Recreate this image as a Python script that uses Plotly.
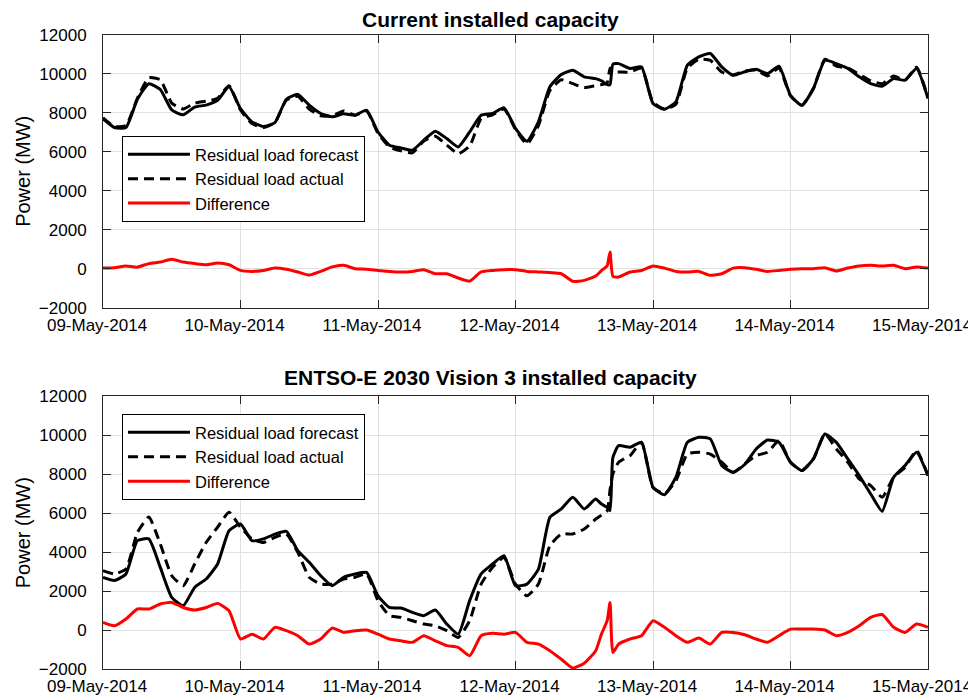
import pandas as pd
import plotly.graph_objects as go

# ---------------- data ----------------
hours = [0, 2, 4, 6, 8, 10, 12, 14, 16, 18, 20, 22, 24, 26, 28, 30, 32, 34, 36, 38, 40, 42,
         44, 46, 48, 50, 52, 54, 56, 58, 60, 62, 64, 66, 68, 70, 72, 74, 76, 78, 80, 82, 84, 86,
         87, 88, 88.5, 89,
         90, 92, 94, 96, 98, 100, 102, 104, 106, 108, 110, 112, 114, 116, 118, 120, 122, 124,
         126, 128, 130, 132, 134, 136, 138, 140, 142, 144]

top_forecast = [7700, 7250, 7250, 8700, 9500, 9200, 8150, 7900, 8300, 8400, 8650, 9340, 8220, 7540,
                7300, 7500, 8700, 8950, 8400, 7970, 7800, 7950, 7880, 8140, 7020, 6340, 6200, 6080,
                6600, 7060, 6680, 6250, 7020, 7880, 7970, 8260, 7200, 6540, 7540, 9340, 9970, 10190,
                9850, 9760,
                9650, 9450, 9450, 10500,
                10530, 10280, 10360, 8480, 8190, 8570, 10450, 10880, 11050, 10360, 9930, 10110,
                10240, 10020, 10400, 8900, 8390, 9250, 10700, 10530, 10280, 9850, 9500, 9370, 9760,
                9680, 10280, 8740]

top_actual = [7750, 7300, 7350, 8750, 9800, 9700, 8500, 8200, 8500, 8600, 8750, 9400, 8150, 7450,
              7250, 7500, 8650, 8850, 8200, 7850, 7850, 8100, 7880, 8100, 6950, 6250, 6050, 5950,
              6550, 6800, 6350, 5900, 6300, 7700, 7900, 8200, 7150, 6400, 7350, 9150, 9700, 9500,
              9300, 9400,
              9450, 9550, 10300, 10100,
              10100, 10100, 10300, 8550, 8200, 8450, 10300, 10750, 10700, 10100, 9950, 10150,
              10200, 9900, 10300, 8870, 8390, 9250, 10750, 10400, 10300, 9980, 9650, 9500, 9900,
              9680, 10350, 8770]

top_difference = [30, 50, 140, 80, 260, 340, 480, 340, 260, 200, 290, 200, -90, -140, -90, 30, -30,
                  -170, -330, -140, 90, 170, 0, -30, -90, -140, -170, -140, -50, -260, -260, -480,
                  -640, -170, -90, -50, -50, -140, -170, -200, -260, -650, -600, -380,
                  -100, 150, 860, -400,
                  -430, -170, -90, 140, 30, -140, -170, -140, -340, -260, 30, 50, -30, -140, -90,
                  -30, 0, 0, 50, -120, 30, 140, 170, 140, 170, 0, 90, 30]

bottom_forecast = [2700, 2540, 2880, 4590, 4680, 3220, 1680, 1250, 2190, 2620, 3390, 5100, 5450,
                   4590, 4680, 4930, 5070, 4080, 3480, 2790, 2280, 2710, 2880, 2960, 1760, 1160,
                   1130, 910, 740, 1030, 310, -210, 1510, 2880, 3390, 3820, 2280, 2360, 3130, 5790,
                   6220, 6820, 6220, 6730,
                   6470, 6300, 6130, 8870,
                   9470, 9390, 9640, 7330, 6950, 7850, 9640, 9900, 9820, 8450, 8100, 8500, 9300,
                   9760, 9640, 8620, 8190, 8790, 10070, 9640, 8790, 7930, 6990, 6100, 7850, 8450,
                   9130, 7930]

bottom_actual = [3050, 2880, 3130, 5000, 5800, 4420, 2790, 2280, 3390, 4500, 5280, 6050, 5280,
                 4680, 4500, 4760, 4930, 3990, 2710, 2360, 2360, 2620, 2710, 2880, 1510, 740, 650,
                 480, 310, 220, -30, -380, 480, 2360, 3220, 3730, 2360, 1760, 2360, 4330, 4930,
                 4930, 5190, 5700,
                 5900, 6130, 7200, 8020,
                 8620, 8960, 9640, 7330, 7000, 7670, 9040, 9130, 9040, 8620, 8100, 8530, 8960,
                 9130, 9730, 8620, 8190, 8790, 10070, 9300, 8620, 7760, 7420, 6820, 7850, 8360,
                 9220, 7930]

bottom_difference = [390, 220, 570, 1080, 1080, 1340, 1420, 1160, 1030, 1160, 1370, 990, -460,
                     -210, -460, 140, -30, -290, -720, -460, 100, -120, -30, 0, -210, -460, -550,
                     -630, -290, -550, -800, -890, -1320, -290, -170, -210, -120, -630, -720,
                     -1060, -1500, -1950, -1700, -1060,
                     -210, 480, 1420, -1150,
                     -720, -460, -290, 480, 140, -290, -630, -410, -720, -120, -120, -240, -460,
                     -630, -290, 50, 50, 50, 0, -290, -120, 220, 650, 800, 140, -120, 310, 140]

series_names = ["Residual load forecast", "Residual load actual", "Difference"]
panel_titles = ["Current installed capacity", "ENTSO-E 2030 Vision 3 installed capacity"]
tick_days = ["2014-05-09", "2014-05-10", "2014-05-11", "2014-05-12", "2014-05-13",
             "2014-05-14", "2014-05-15"]
tick_labels = ["09-May-2014", "10-May-2014", "11-May-2014", "12-May-2014", "13-May-2014",
               "14-May-2014", "15-May-2014"]
y_ticks = [-2000, 0, 2000, 4000, 6000, 8000, 10000, 12000]

# ---------------- figure ----------------
start = pd.Timestamp("2014-05-09")
times = [start + pd.Timedelta(hours=h) for h in hours]

FONT = "Liberation Sans, Arial, Helvetica, sans-serif"
AX = "#262626"
GRID = "#e1e1e1"

fig = go.Figure()

panels = [
    (top_forecast, top_actual, top_difference, "x", "y", "legend"),
    (bottom_forecast, bottom_actual, bottom_difference, "x2", "y2", "legend2"),
]
for fc, ac, df, xa, ya, lg in panels:
    fig.add_trace(go.Scatter(x=times, y=fc, mode="lines", name=series_names[0],
                             line=dict(color="black", width=3, shape="spline", smoothing=0.5),
                             xaxis=xa, yaxis=ya, legend=lg))
    fig.add_trace(go.Scatter(x=times, y=ac, mode="lines", name=series_names[1],
                             line=dict(color="black", width=3, dash="10px,6px",
                                       shape="spline", smoothing=0.5),
                             xaxis=xa, yaxis=ya, legend=lg))
    fig.add_trace(go.Scatter(x=times, y=df, mode="lines", name=series_names[2],
                             line=dict(color="#ff0000", width=3, shape="spline", smoothing=0.5),
                             xaxis=xa, yaxis=ya, legend=lg))

xcommon = dict(
    type="date", range=[tick_days[0], tick_days[-1]], tickvals=tick_days, ticktext=tick_labels,
    showgrid=True, gridcolor=GRID, gridwidth=1, showline=True, linecolor=AX, linewidth=1,
    mirror="ticks", ticks="inside", ticklen=8, tickcolor=AX, tickwidth=1,
    tickfont=dict(family=FONT, size=17, color="black"), ticklabelstandoff=2,
    ticklabelshift=-6, zeroline=False, automargin=False,
)
ycommon = dict(
    range=[-2000, 12000], tickvals=y_ticks, tickformat="d",
    showgrid=True, gridcolor=GRID, gridwidth=1, showline=True, linecolor=AX, linewidth=1,
    mirror="ticks", ticks="inside", ticklen=8, tickcolor=AX, tickwidth=1,
    tickfont=dict(family=FONT, size=17, color="black"), ticklabelstandoff=12,
    zeroline=False, automargin=False,
    title=dict(text="Power (MW)", font=dict(family=FONT, size=20, color="black"), standoff=2),
)

legcommon = dict(
    xanchor="left", yanchor="top", bgcolor="white", bordercolor="black", borderwidth=1,
    font=dict(family=FONT, size=16.5, color="black"), itemwidth=62, tracegroupgap=0,
)

fig.update_layout(
    width=976, height=697,
    margin=dict(l=95, r=56, t=27, b=36),
    paper_bgcolor="white", plot_bgcolor="white",
    font=dict(family=FONT, color="black"),
    xaxis=dict(domain=[0, 1], anchor="y", **xcommon),
    yaxis=dict(domain=[0.570, 1], anchor="x", **ycommon),
    xaxis2=dict(domain=[0, 1], anchor="y2", **xcommon),
    yaxis2=dict(domain=[0, 0.430], anchor="x2", **ycommon),
    legend=dict(x=0.023, y=0.8407, **legcommon),
    legend2=dict(x=0.023, y=0.4022, **legcommon),
    annotations=[
        dict(text="<b>" + panel_titles[0] + "</b>", xref="paper", yref="paper",
             x=0.470, y=1.0252, xanchor="center", yanchor="middle", showarrow=False,
             font=dict(family=FONT, size=21, color="black")),
        dict(text="<b>" + panel_titles[1] + "</b>", xref="paper", yref="paper",
             x=0.470, y=0.459, xanchor="center", yanchor="middle", showarrow=False,
             font=dict(family=FONT, size=21, color="black")),
    ],
    showlegend=True,
)

fig.write_html("out.html")
